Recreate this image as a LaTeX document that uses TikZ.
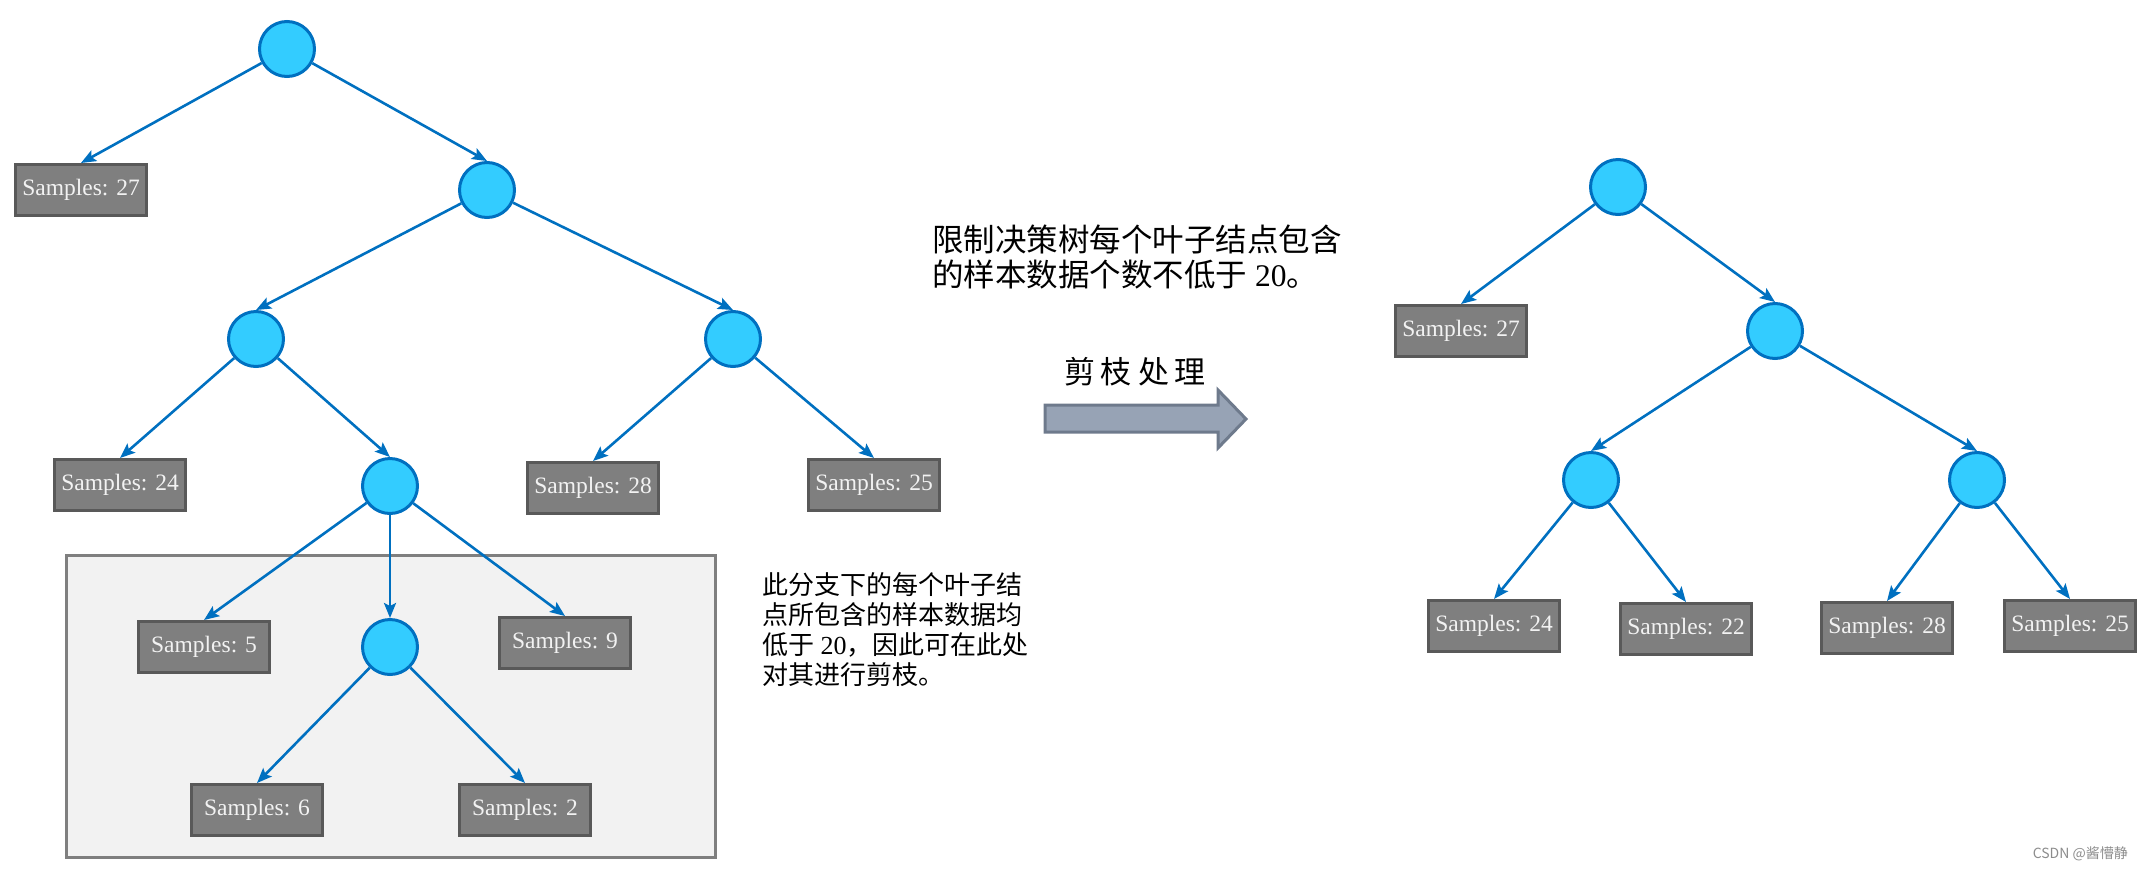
\documentclass[tikz,border=0pt]{standalone}
\usepackage{fontspec}
\setmainfont{Liberation Serif}
\newfontfamily\cjk{Noto Sans CJK SC}
\usetikzlibrary{arrows.meta}
\definecolor{cfill}{HTML}{33CCFF}
\definecolor{cblue}{HTML}{0070C0}
\definecolor{bfill}{HTML}{7F7F7F}
\definecolor{bborder}{HTML}{595959}
\definecolor{regfill}{HTML}{F2F2F2}
\definecolor{regborder}{HTML}{7F7F7F}
\definecolor{arrfill}{HTML}{97A3B5}
\definecolor{arrborder}{HTML}{6E7A8C}
\begin{document}
\begin{tikzpicture}[x=1pt,y=-1pt,
  dn/.style={circle, draw=cblue, fill=cfill, line width=3pt, minimum size=55pt, inner sep=0pt},
  leaf/.style={rectangle, draw=bborder, fill=bfill, line width=3pt, minimum width=131pt, minimum height=51pt, inner sep=0pt, text=regfill, font=\fontsize{23.5}{28}\selectfont},
  conn/.style={draw=cblue, line width=2.6pt, -{Stealth[length=15pt,width=12pt,inset=3pt]}},
  region/.style={draw=regborder, fill=regfill, line width=3pt},
  bigarrow/.style={draw=arrborder, fill=arrfill, line width=3pt, line join=miter}]
\useasboundingbox (0,0) rectangle (2144,873);

% pruned region background
\draw[region] (66,555) rectangle (715,857);

% ---- left tree ----
\node[dn] (L1) at (287,49) {};
\node[leaf] (LS27) at (81,190) {Samples: 27};
\node[dn] (L2) at (487,190) {};
\node[dn] (L3) at (256,339) {};
\node[dn] (L4) at (733,339) {};
\node[leaf] (LS24) at (120,485) {Samples: 24};
\node[dn] (L5) at (390,486) {};
\node[leaf] (LS28) at (593,488) {Samples: 28};
\node[leaf] (LS25) at (874,485) {Samples: 25};
\node[leaf] (LS5) at (204,647) {Samples: 5};
\node[dn] (L6) at (390,647) {};
\node[leaf] (LS9) at (565,643) {Samples: 9};
\node[leaf] (LS6) at (257,810) {Samples: 6};
\node[leaf] (LS2) at (525,810) {Samples: 2};

\draw[conn] (L1) -- (LS27.north);
\draw[conn] (L1) -- (L2.north);
\draw[conn] (L2) -- (L3.north);
\draw[conn] (L2) -- (L4.north);
\draw[conn] (L3) -- (LS24.north);
\draw[conn] (L3) -- (L5.north);
\draw[conn] (L4) -- (LS28.north);
\draw[conn] (L4) -- (LS25.north);
\draw[conn] (L5) -- (LS5.north);
\draw[conn] (L5) -- (L6.north);
\draw[conn] (L5) -- (LS9.north);
\draw[conn] (L6) -- (LS6.north);
\draw[conn] (L6) -- (LS2.north);

% ---- texts ----
\node[anchor=west, align=left, inner sep=0pt, font=\fontsize{26}{30}\selectfont] (note) at (762,630)
  {{\cjk 此分支下的每个叶子结}\\{\cjk 点所包含的样本数据均}\\{\cjk 低于} 20{\cjk ，因此可在此处}\\{\cjk 对其进行剪枝。}};
\node[anchor=west, align=left, inner sep=0pt, font=\fontsize{31.5}{35}\selectfont] (rule) at (932,257)
  {{\cjk 限制决策树每个叶子结点包含}\\{\cjk 的样本数据个数不低于} 20{\cjk 。}};
\node[inner sep=0pt, font=\fontsize{31}{35}\selectfont\cjk] (prune) at (1135,372)
  {剪\hspace{6pt}枝\hspace{6pt}处\hspace{6pt}理};

% big arrow
\draw[bigarrow] (1045,405) -- (1218,405) -- (1218,390) -- (1246,419) -- (1218,448) -- (1218,432) -- (1045,432) -- cycle;

% ---- right tree ----
\node[dn] (R1) at (1618,187) {};
\node[leaf] (RS27) at (1461,331) {Samples: 27};
\node[dn] (R2) at (1775,331) {};
\node[dn] (R3) at (1591,480) {};
\node[dn] (R4) at (1977,480) {};
\node[leaf] (RS24) at (1494,626) {Samples: 24};
\node[leaf] (RS22) at (1686,629) {Samples: 22};
\node[leaf] (RS28) at (1887,628) {Samples: 28};
\node[leaf] (RS25) at (2070,626) {Samples: 25};

\draw[conn] (R1) -- (RS27.north);
\draw[conn] (R1) -- (R2.north);
\draw[conn] (R2) -- (R3.north);
\draw[conn] (R2) -- (R4.north);
\draw[conn] (R3) -- (RS24.north);
\draw[conn] (R3) -- (RS22.north);
\draw[conn] (R4) -- (RS28.north);
\draw[conn] (R4) -- (RS25.north);

% watermark
\node[anchor=east, inner sep=0pt, text=black!45, font=\fontsize{14}{16}\selectfont\cjk] (wm) at (2128,854) {CSDN @酱懵静};
\end{tikzpicture}
\end{document}
